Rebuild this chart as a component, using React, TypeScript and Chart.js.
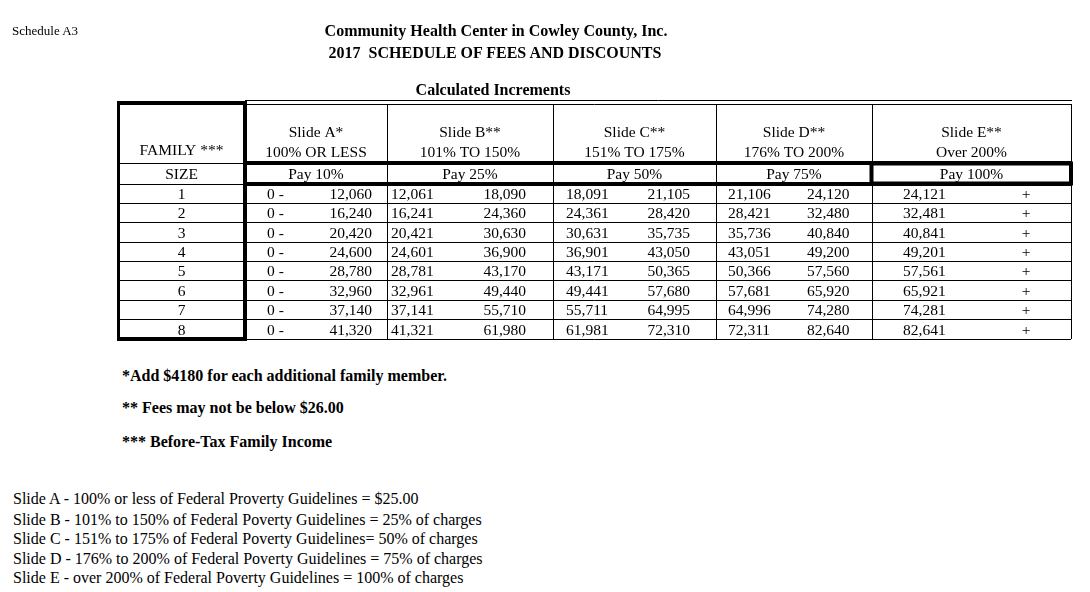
import React, { useEffect, useRef } from "react";
import { Chart, registerables } from "chart.js";

Chart.register(...registerables);

// ---------- data ----------
const familySizes = [1, 2, 3, 4, 5, 6, 7, 8];
const slideNames = ["Slide A*", "Slide B**", "Slide C**", "Slide D**", "Slide E**"];
const slideRanges = ["100% OR LESS", "101% TO 150%", "151% TO 175%", "176% TO 200%", "Over 200%"];
const slidePay = ["Pay 10%", "Pay 25%", "Pay 50%", "Pay 75%", "Pay 100%"];
const slideAMin = [0, 0, 0, 0, 0, 0, 0, 0];
const slideAMax = [12060, 16240, 20420, 24600, 28780, 32960, 37140, 41320];
const slideBMin = [12061, 16241, 20421, 24601, 28781, 32961, 37141, 41321];
const slideBMax = [18090, 24360, 30630, 36900, 43170, 49440, 55710, 61980];
const slideCMin = [18091, 24361, 30631, 36901, 43171, 49441, 55711, 61981];
const slideCMax = [21105, 28420, 35735, 43050, 50365, 57680, 64995, 72310];
const slideDMin = [21106, 28421, 35736, 43051, 50366, 57681, 64996, 72311];
const slideDMax = [24120, 32480, 40840, 49200, 57560, 65920, 74280, 82640];
const slideEMin = [24121, 32481, 40841, 49201, 57561, 65921, 74281, 82641];

const familyHeader = "FAMILY ***";
const familySubHeader = "SIZE";
const titleLines = ["Community Health Center in Cowley County, Inc.", "2017  SCHEDULE OF FEES AND DISCOUNTS"];
const subTitle = "Calculated Increments";
const scheduleLabel = "Schedule A3";
const footnotes = [
  "*Add $4180 for each additional family member.",
  "** Fees may not be below $26.00",
  "*** Before-Tax Family Income",
];
const slideNotes = [
  "Slide A - 100% or less of Federal Proverty Guidelines = $25.00",
  "Slide B - 101% to 150% of Federal Poverty Guidelines = 25% of charges",
  "Slide C - 151% to 175% of Federal Poverty Guidelines= 50% of charges",
  "Slide D - 176% to 200% of Federal Poverty Guidelines = 75% of charges",
  "Slide E - over 200% of Federal Poverty Guidelines = 100% of charges",
];

// ---------- layout (not data) ----------
const COL_WIDTHS = [127, 142, 166, 163, 156, 199];
const HEADER_H = 59;
const PAY_H = 21;
const ROW_H = 19.375;
const COL_EDGES = COL_WIDTHS.reduce((acc, w) => [...acc, acc[acc.length - 1] + w], [0]);
const ROW_EDGES = [0, HEADER_H, HEADER_H + PAY_H, ...familySizes.map((_, i) => HEADER_H + PAY_H + ROW_H * (i + 1))];
const TOTAL_W = COL_EDGES[COL_EDGES.length - 1];
const TOTAL_H = ROW_EDGES[ROW_EDGES.length - 1];
// per slide column: [left-item offset from column left, right-item offset from column right]
const CELL_OFFSETS = [
  [22, 15],
  [4, 27],
  [13, 26],
  [12, 22.5],
  [31, 45],
];

const SERIF = '"Liberation Serif", "Times New Roman", serif';
const TABLE_FONT_SIZE = 15.5;
const fmt = (n: number) => n.toLocaleString("en-US");

const tablePlugin = {
  id: "feeTable",
  afterDraw(chart: any) {
    const { ctx } = chart;
    const xs = chart.scales.x;
    const ys = chart.scales.y;
    const X = (v: number) => xs.getPixelForValue(v);
    const Y = (v: number) => ys.getPixelForValue(v);
    ctx.save();
    ctx.strokeStyle = "#000";
    ctx.fillStyle = "#000";

    const line = (x1: number, y1: number, x2: number, y2: number, w: number) => {
      ctx.lineWidth = w;
      ctx.beginPath();
      ctx.moveTo(x1, y1);
      ctx.lineTo(x2, y2);
      ctx.stroke();
    };

    // double top line over the slide columns
    const topY = Math.round(Y(0)) - 4 + 0.5;
    line(X(COL_EDGES[1]), topY, X(TOTAL_W) + 1, topY, 1);

    // family column thick box
    const fl = X(0) + 0.5;
    const fr = X(COL_EDGES[1]);
    const ft = Y(0) - 1.5;
    const fb = Y(TOTAL_H);
    line(fl, ft - 1.5, fl, fb + 2, 3);
    line(fl - 1.5, ft, fr + 2, ft, 3);
    line(fr, ft - 1.5, fr, fb + 2, 4);
    line(fl - 1.5, fb, fr + 2, fb, 4);

    // thick horizontal rules below header and pay rows
    line(fr, Y(HEADER_H), X(TOTAL_W) + 1, Y(HEADER_H), 4);
    line(fr, Y(HEADER_H + PAY_H), X(TOTAL_W) + 1, Y(HEADER_H + PAY_H), 4);

    // thick box around last pay cell
    ctx.lineWidth = 4;
    const el = X(COL_EDGES[5]) - 0.5;
    const er = X(TOTAL_W);
    ctx.strokeRect(el, Y(HEADER_H) + 0.5, er - el, Y(HEADER_H + PAY_H) - Y(HEADER_H) - 1);

    // texts
    ctx.font = `${TABLE_FONT_SIZE}px ${SERIF}`;
    ctx.textBaseline = "alphabetic";
    const off = TABLE_FONT_SIZE * 0.34;
    const text = (s: string, px: number, py: number, align: CanvasTextAlign) => {
      ctx.textAlign = align;
      ctx.fillText(s, px, py + off);
    };
    const line1Y = Y(HEADER_H - 31.5);
    const line2Y = Y(HEADER_H - 11);
    const payY = Y(HEADER_H + PAY_H / 2);

    const famC = (X(COL_EDGES[0]) + X(COL_EDGES[1])) / 2;
    text(familyHeader, famC, Y(HEADER_H - 13), "center");
    text(familySubHeader, famC, payY, "center");

    slideNames.forEach((name, i) => {
      const c = (X(COL_EDGES[i + 1]) + X(COL_EDGES[i + 2])) / 2;
      text(name, c, line1Y, "center");
      text(slideRanges[i], c, line2Y, "center");
      text(slidePay[i], c, payY, "center");
    });

    const pairs: [number[], number[] | null][] = [
      [slideAMin, slideAMax],
      [slideBMin, slideBMax],
      [slideCMin, slideCMax],
      [slideDMin, slideDMax],
      [slideEMin, null],
    ];

    familySizes.forEach((size, r) => {
      const cy = Y(HEADER_H + PAY_H + ROW_H * (r + 0.5));
      text(String(size), famC, cy, "center");
      pairs.forEach(([lo, hi], i) => {
        const left = X(COL_EDGES[i + 1]);
        const right = X(COL_EDGES[i + 2]);
        const [lOff, rOff] = CELL_OFFSETS[i];
        if (i === 0) {
          text(`${lo[r]} -`, left + lOff, cy, "left");
        } else {
          text(fmt(lo[r]), left + lOff, cy, "left");
        }
        if (hi) {
          text(fmt(hi[r]), right - rOff, cy, "right");
        } else {
          text("+", right - rOff, cy, "center");
        }
      });
    });

    ctx.restore();
  },
};

function Txt({ x, y, size, bold, center, children }: any) {
  const lh = size * 1.2;
  return (
    <div
      style={{
        position: "absolute",
        left: x,
        top: y - lh / 2,
        lineHeight: `${lh}px`,
        fontSize: size,
        fontWeight: bold ? 700 : 400,
        fontFamily: SERIF,
        whiteSpace: "pre",
        color: "#000",
        transform: center ? "translateX(-50%)" : undefined,
      }}
    >
      {children}
    </div>
  );
}

export default function App() {
  const canvasRef = useRef<HTMLCanvasElement | null>(null);

  useEffect(() => {
    if (!canvasRef.current) return;
    const gridOpts = { color: "#000", lineWidth: 1, drawTicks: false };
    const chart = new Chart(canvasRef.current, {
      type: "scatter",
      data: { datasets: [] },
      plugins: [tablePlugin],
      options: {
        responsive: false,
        animation: false,
        events: [],
        layout: { padding: { left: 118, right: 19, top: 104, bottom: 11 } },
        plugins: { legend: { display: false }, tooltip: { enabled: false }, title: { display: false } },
        scales: {
          x: {
            type: "linear",
            min: 0,
            max: TOTAL_W,
            grid: gridOpts,
            border: { display: false },
            ticks: { display: false },
            afterBuildTicks: (axis: any) => {
              axis.ticks = COL_EDGES.map((value) => ({ value }));
            },
          },
          y: {
            type: "linear",
            reverse: true,
            min: 0,
            max: TOTAL_H,
            grid: gridOpts,
            border: { display: false },
            ticks: { display: false },
            afterBuildTicks: (axis: any) => {
              axis.ticks = ROW_EDGES.map((value) => ({ value }));
            },
          },
        },
      } as any,
    });
    return () => chart.destroy();
  }, []);

  return (
    <div style={{ position: "absolute", left: 0, top: 0, width: 1090, height: 592, background: "#fff" }}>
      <canvas ref={canvasRef} width={1090} height={350} style={{ position: "absolute", left: 0, top: 0 }} />
      <Txt x={12} y={31} size={13}>{scheduleLabel}</Txt>
      <Txt x={496} y={31} size={16} bold center>{titleLines[0]}</Txt>
      <Txt x={495} y={53} size={16} bold center>{titleLines[1]}</Txt>
      <Txt x={493} y={90} size={16} bold center>{subTitle}</Txt>
      {footnotes.map((f, i) => (
        <Txt key={f} x={122} y={[376, 408, 441.5][i]} size={16} bold>{f}</Txt>
      ))}
      {slideNotes.map((s, i) => (
        <Txt key={s} x={13} y={[499, 519.5, 539, 558.5, 578][i]} size={16}>{s}</Txt>
      ))}
    </div>
  );
}
